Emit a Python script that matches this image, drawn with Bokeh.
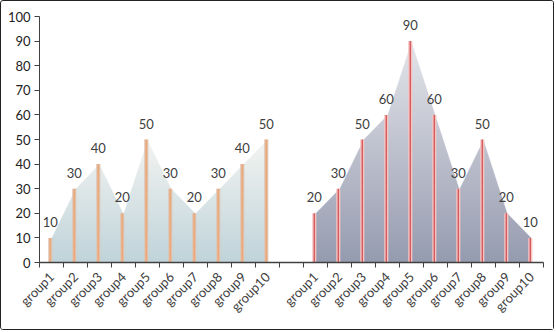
import numpy as np
from math import pi
from bokeh.plotting import figure
from bokeh.models import FixedTicker, Range1d
from bokeh.core.properties import value
from bokeh.embed import file_html
from bokeh.resources import INLINE

# ---- data ----
groups = ["group1", "group2", "group3", "group4", "group5",
          "group6", "group7", "group8", "group9", "group10"]
series_a = [10, 30, 40, 20, 50, 30, 20, 30, 40, 50]
series_b = [20, 30, 50, 60, 90, 60, 30, 50, 20, 10]
y_ticks = [0, 10, 20, 30, 40, 50, 60, 70, 80, 90, 100]

FONT = "Lato"
TXT = "#404040"

n = len(groups)
slots = 2 * n + 1
pos_a = np.arange(n) + 0.5
pos_b = np.arange(n) + n + 1 + 0.5

p = figure(width=554, height=330, output_backend="svg", toolbar_location=None,
           x_range=Range1d(0, slots), y_range=Range1d(0, 100),
           min_border_left=38, min_border_right=12, min_border_top=15,
           min_border_bottom=69)
p.styles = {"border": "1px solid #222", "border-radius": "3px"}
p.outline_line_color = None
p.grid.grid_line_color = None
p.background_fill_color = "white"
p.border_fill_color = "white"


def gradient(top_rgb, bot_rgb, steps=200):
    t = np.linspace(0, 1, steps)[:, None]  # row 0 = bottom
    top = np.array(top_rgb)[None, :]
    bot = np.array(bot_rgb)[None, :]
    rgb = (bot * (1 - t) + top * t).astype(np.uint32)
    arr = (255 << 24) | (rgb[:, 2] << 16) | (rgb[:, 1] << 8) | rgb[:, 0]
    return arr.reshape(steps, 1).astype(np.uint32)


def draw_series(pos, vals, top_rgb, bot_rgb, bar_edge, bar_core):
    vals = np.array(vals, dtype=float)
    vmax = vals.max()
    x0, x1 = pos[0], pos[-1]
    img = gradient(top_rgb, bot_rgb)
    p.image_rgba(image=[img], x=x0, y=0, dw=x1 - x0, dh=vmax)
    # white mask above the area outline (slightly wider than the image)
    pad = 0.15
    mx = [x0 - pad] + list(pos) + [x1 + pad, x1 + pad, x0 - pad]
    my = [0] + list(vals) + [0, vmax + 0.5, vmax + 0.5]
    p.patch(mx, my, fill_color="white", line_color="white", line_width=0.5)
    bx = pos - 0.05
    p.vbar(x=bx, top=vals, bottom=0, width=0.17, fill_color=bar_edge,
           line_color=None)
    p.vbar(x=bx, top=vals, bottom=0, width=0.06, fill_color=bar_core,
           line_color=None)
    p.text(x=bx, y=vals, text=[str(int(v)) for v in vals],
           text_align="center", text_baseline="bottom", y_offset=-11,
           text_font=value(FONT), text_font_size="13px", text_color=TXT)


draw_series(pos_a, series_a, (243, 244, 241), (192, 212, 219),
            "#dfc3ae", "#eda677")
draw_series(pos_b, series_b, (229, 230, 235), (150, 156, 176),
            "#f5c4c4", "#d65c5c")

# axes
ticks = list(pos_a) + list(pos_b)
labels = {float(t): g for t, g in zip(pos_a, groups)}
labels.update({float(t): g for t, g in zip(pos_b, groups)})
xa = p.xaxis[0]
xa.ticker = FixedTicker(ticks=ticks, minor_ticks=list(range(slots + 1)))
xa.major_label_overrides = labels
xa.major_label_orientation = pi / 4
xa.major_tick_line_color = None
xa.minor_tick_line_color = "#404040"
xa.minor_tick_out = 5
xa.minor_tick_in = 0
xa.axis_line_color = "#404040"
xa.axis_line_width = 1.5
xa.major_label_text_font = FONT
xa.major_label_text_font_size = "13px"
xa.major_label_text_color = TXT
xa.major_label_standoff = 6

ya = p.yaxis[0]
ya.ticker = FixedTicker(ticks=y_ticks)
ya.minor_tick_line_color = None
ya.major_tick_out = 5
ya.major_tick_in = 0
ya.axis_line_color = "#404040"
ya.major_tick_line_color = "#404040"
ya.major_label_text_font = FONT
ya.major_label_text_font_size = "13px"
ya.major_label_text_color = "#222222"
ya.major_label_standoff = 4

open("out.html", "w").write(file_html(p, INLINE))
